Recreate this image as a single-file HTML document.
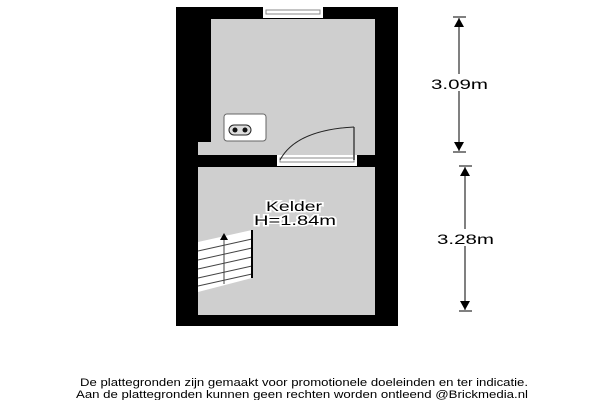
<!DOCTYPE html>
<html><head><style>body{margin:0;width:600px;height:400px;background:#fff;position:relative;overflow:hidden;font-family:"Liberation Sans",sans-serif}</style></head><body>
<svg width="600" height="400" style="position:absolute;left:0;top:0">
<rect x="176" y="7" width="222" height="319" fill="#000"/>
<rect x="211" y="19" width="164" height="136" fill="#cfcfcf"/>
<rect x="198" y="142" width="14" height="13" fill="#cfcfcf"/>
<rect x="198" y="167" width="177" height="148" fill="#cfcfcf"/>
<rect x="263" y="7" width="60" height="11" fill="#fff"/>
<rect x="266" y="10" width="54" height="4" fill="none" stroke="#888" stroke-width="1"/>
<rect x="277" y="155" width="80" height="11" fill="#fff"/>
<rect x="280" y="158" width="74" height="4" fill="none" stroke="#888"/>
<line x1="354" y1="127" x2="354" y2="160" stroke="#666" stroke-width="2"/>
<path d="M354 127 Q296 130 280 160" fill="none" stroke="#222" stroke-width="1"/>
<rect x="224" y="114" width="42" height="27" rx="3" fill="#fff" stroke="#666"/>
<rect x="229" y="125" width="22" height="10" rx="5" fill="#ddd" stroke="#222"/>
<circle cx="235" cy="130" r="2.5" fill="#111"/><circle cx="245" cy="130" r="2.5" fill="#111"/>
<polygon points="198,242 252,230 252,278 198,292" fill="#fff"/>
<g stroke="#444" stroke-width="1"><line x1="198" y1="251" x2="252" y2="239"/><line x1="198" y1="260" x2="252" y2="248"/><line x1="198" y1="269" x2="252" y2="257"/><line x1="198" y1="278" x2="252" y2="266"/><line x1="198" y1="286" x2="252" y2="274"/>
<line x1="224" y1="238" x2="224" y2="284"/></g>
<polygon points="224,233 220,240 228,240" fill="#000"/>
<line x1="252" y1="230" x2="252" y2="278" stroke="#000" stroke-width="2"/>
<g stroke="#000"><line x1="459" y1="18" x2="459" y2="151"/><line x1="453" y1="17" x2="466" y2="17"/><line x1="453" y1="152" x2="466" y2="152"/>
<line x1="465" y1="167" x2="465" y2="310"/><line x1="459" y1="166" x2="472" y2="166"/><line x1="459" y1="311" x2="472" y2="311"/></g>
<polygon points="459,18 454,27 464,27"/><polygon points="459,151 454,142 464,142"/>
<polygon points="465,167 460,176 470,176"/><polygon points="465,310 460,301 470,301"/>
<rect x="429" y="74" width="61" height="17" fill="#fff"/><rect x="435" y="229" width="61" height="17" fill="#fff"/>
<text x="431" y="89" font-size="14" textLength="57" lengthAdjust="spacingAndGlyphs" font-family="Liberation Sans">3.09m</text>
<text x="437" y="244" font-size="14" textLength="57" lengthAdjust="spacingAndGlyphs" font-family="Liberation Sans">3.28m</text>
<text x="266" y="211" font-size="14" textLength="56" lengthAdjust="spacingAndGlyphs" font-family="Liberation Sans" stroke="#fff" stroke-width="3" paint-order="stroke">Kelder</text>
<text x="254" y="225" font-size="14" textLength="82" lengthAdjust="spacingAndGlyphs" font-family="Liberation Sans" stroke="#fff" stroke-width="3" paint-order="stroke">H=1.84m</text>
<text x="80" y="386" font-size="11" textLength="448" lengthAdjust="spacingAndGlyphs" font-family="Liberation Sans">De plattegronden zijn gemaakt voor promotionele doeleinden en ter indicatie.</text>
<text x="76" y="398" font-size="11" textLength="452" lengthAdjust="spacingAndGlyphs" font-family="Liberation Sans">Aan de plattegronden kunnen geen rechten worden ontleend @Brickmedia.nl</text>
</svg>
</body></html>
